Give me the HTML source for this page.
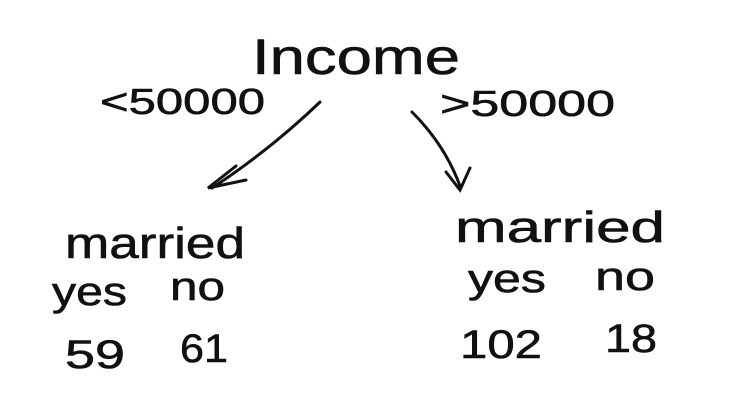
<!DOCTYPE html>
<html><head><meta charset="utf-8"><style>
html,body{margin:0;padding:0;background:#fff;}
svg{display:block;}
text{font-family:"Liberation Sans",sans-serif;fill:#111;stroke:#111;stroke-width:0.6;}
</style></head><body>
<svg width="733" height="401" viewBox="0 0 733 401" xmlns="http://www.w3.org/2000/svg">
<text x="252" y="74" font-size="50" textLength="208" lengthAdjust="spacingAndGlyphs">Income</text>
<text x="100" y="114" font-size="36" textLength="165" lengthAdjust="spacingAndGlyphs">&lt;50000</text>
<text x="440" y="116" font-size="36" textLength="175" lengthAdjust="spacingAndGlyphs">&gt;50000</text>
<g stroke="#111" stroke-width="3" fill="none" stroke-linecap="round">
<path d="M320 102 Q270 150 212 188"/>
<path d="M236 166 L208 188 L246 180"/>
<path d="M412 112 Q445 145 460 186"/>
<path d="M446 172 L460 190 L470 168"/>
</g>
<text x="65" y="258" font-size="44" textLength="180" lengthAdjust="spacingAndGlyphs">married</text>
<text x="52" y="305" font-size="40" textLength="75" lengthAdjust="spacingAndGlyphs">yes</text>
<text x="170" y="300" font-size="40" textLength="55" lengthAdjust="spacingAndGlyphs">no</text>
<text x="65" y="368" font-size="40" textLength="60" lengthAdjust="spacingAndGlyphs">59</text>
<text x="180" y="362" font-size="40" textLength="48" lengthAdjust="spacingAndGlyphs">61</text>
<text x="455" y="242" font-size="44" textLength="210" lengthAdjust="spacingAndGlyphs">married</text>
<text x="468" y="292" font-size="40" textLength="78" lengthAdjust="spacingAndGlyphs">yes</text>
<text x="595" y="290" font-size="40" textLength="60" lengthAdjust="spacingAndGlyphs">no</text>
<text x="460" y="358" font-size="40" textLength="82" lengthAdjust="spacingAndGlyphs">102</text>
<text x="605" y="352" font-size="40" textLength="52" lengthAdjust="spacingAndGlyphs">18</text>
</svg>
</body></html>
